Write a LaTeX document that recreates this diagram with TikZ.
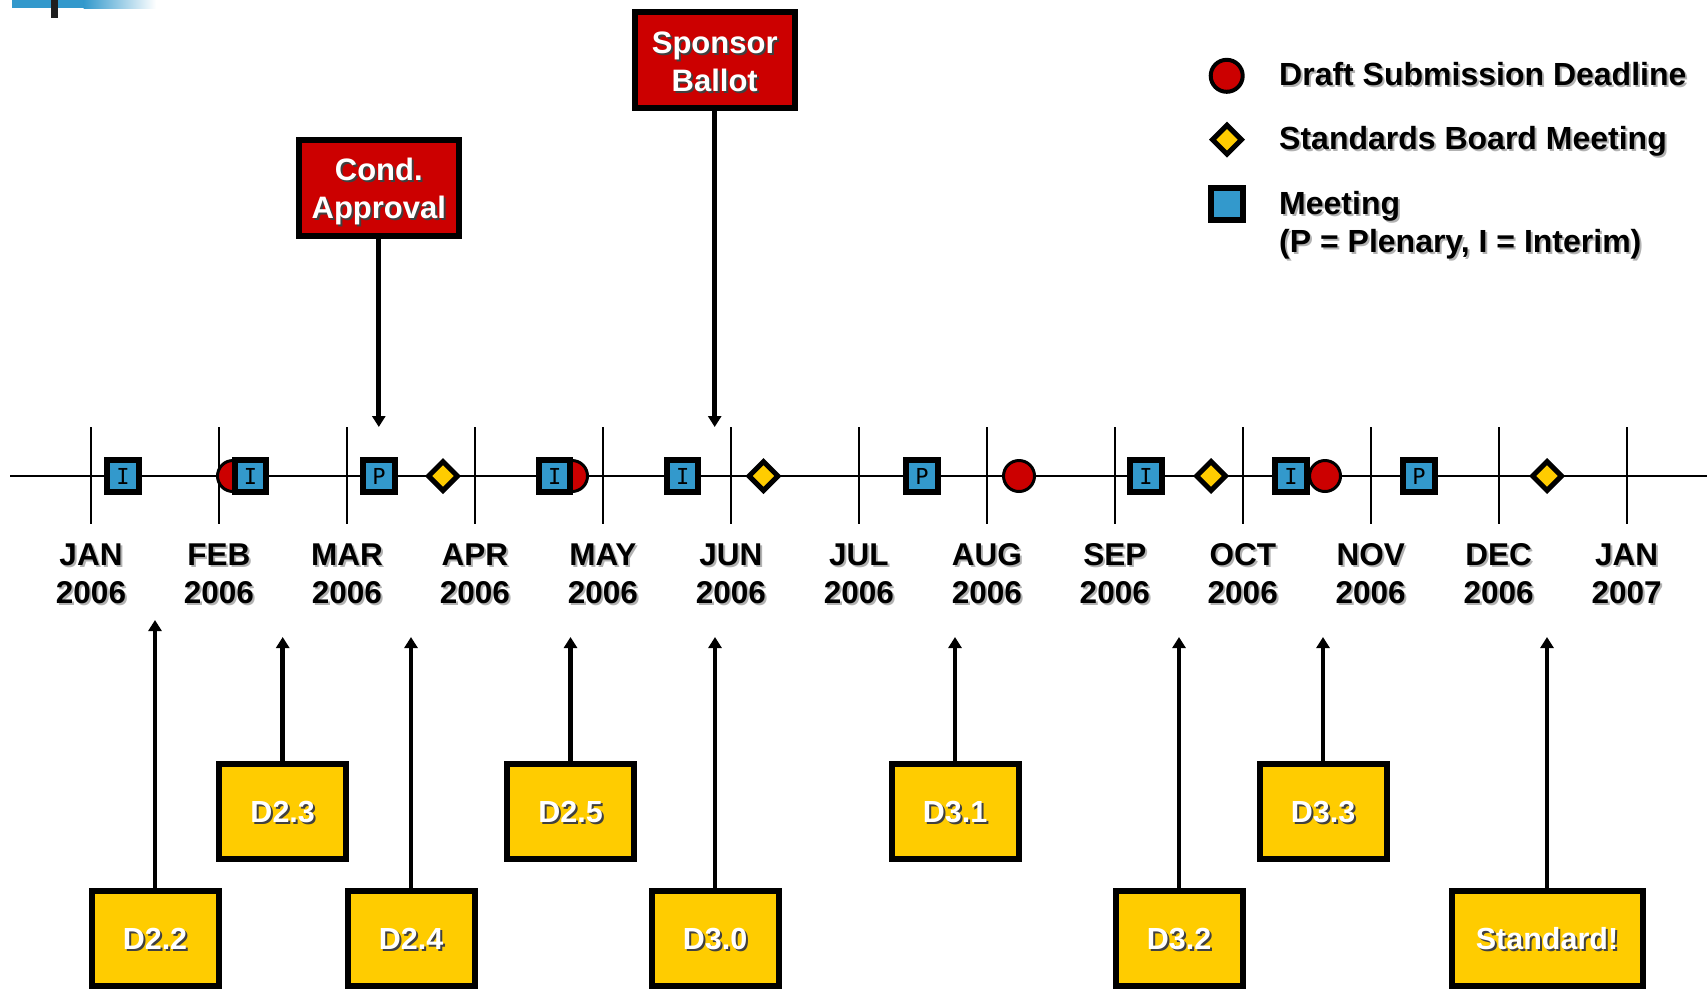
\documentclass[tikz,border=0pt]{standalone}
\usepackage{fontspec}
\setmainfont{Liberation Sans}
\newfontfamily\monof{DejaVu Sans Mono}
\usetikzlibrary{arrows.meta,shapes.geometric}
\definecolor{tlblue}{HTML}{3399CC}
\definecolor{tlyellow}{HTML}{FFCC00}
\definecolor{tlred}{HTML}{CC0000}
\newcommand\shtxt[3]{\makebox[0pt][l]{\hspace{2pt}\raisebox{-2pt}{\textcolor{#2}{#3}}}\textcolor{#1}{#3}}
\newcommand\wtxt[1]{\shtxt{white}{black!75}{#1}}
\newcommand\btxt[1]{\shtxt{black}{black!30}{#1}}
\newcommand\boxtxt[1]{\rule[-8pt]{0pt}{37.8pt}\wtxt{#1}}
\newcommand\twoline[2]{\rule{0pt}{33.4pt}\wtxt{#1}\\\rule[-8pt]{0pt}{8pt}\wtxt{#2}}
\begin{document}
\begin{tikzpicture}[x=1pt,y=-1pt,
  meet/.style={draw=black,fill=tlblue,line width=6pt,minimum size=31.5pt,inner sep=0pt,font=\monof\fontsize{22}{22}\selectfont},
  sbm/.style={draw=black,fill=tlyellow,line width=5pt,diamond,aspect=1,minimum size=31pt,inner sep=0pt},
  dsd/.style={draw=black,fill=tlred,line width=3pt,circle,minimum size=31pt,inner sep=0pt},
  redbox/.style={draw=black,fill=tlred,line width=6pt,minimum width=160pt,minimum height=96pt,inner sep=0pt,align=center,font=\bfseries\fontsize{31}{38}\selectfont},
  dbox/.style={draw=black,fill=tlyellow,line width=6pt,minimum width=127pt,minimum height=95pt,inner sep=0pt,font=\bfseries\fontsize{30.5}{36}\selectfont},
  arr/.style={line width=4.7pt,-{Triangle[width=13pt,length=11pt]}},
  tick/.style={line width=2pt},
  mlab/.style={inner sep=0pt,font=\bfseries\fontsize{31.5}{36}\selectfont},
  leg/.style={inner sep=0pt,anchor=base west,font=\bfseries\fontsize{32}{36}\selectfont}
]
\useasboundingbox (0,0) rectangle (1707,989);
% corner decoration
\fill[tlblue] (12,0) rectangle (84,8);
\shade[left color=tlblue,right color=white] (83.5,0) rectangle (156,8);
\fill[black!88] (51,0) rectangle (58,18);
% timeline
\coordinate (tlstart) at (10,476);
\coordinate (tlend) at (1707,476);
\draw[tick] (tlstart) -- (tlend);
\foreach \m/\yr [count=\k from 0] in {JAN/2006,FEB/2006,MAR/2006,APR/2006,MAY/2006,JUN/2006,JUL/2006,AUG/2006,SEP/2006,OCT/2006,NOV/2006,DEC/2006,JAN/2007}{
  \pgfmathsetmacro\xx{91+127.97*\k}
  \draw[tick] (\xx,427) -- (\xx,524);
  \node[mlab,anchor=base] (mon\k) at (\xx,565.5) {\btxt{\m}};
  \node[mlab,anchor=base] (yr\k) at (\xx,603) {\btxt{\yr}};
}
% markers
\node[meet] (m1) at (123,476) {I};
\node[dsd] (c1) at (233,476) {};
\node[meet] (m2) at (250.5,476) {I};
\node[meet] (m3) at (379,476) {P};
\node[sbm] (s1) at (443,476) {};
\node[dsd] (c2) at (572,476) {};
\node[meet] (m4) at (554.7,476) {I};
\node[meet] (m5) at (682.7,476) {I};
\node[sbm] (s2) at (763.5,476) {};
\node[meet] (m6) at (922,476) {P};
\node[dsd] (c3) at (1019,476) {};
\node[meet] (m7) at (1146,476) {I};
\node[sbm] (s3) at (1211,476) {};
\node[meet] (m8) at (1291,476) {I};
\node[dsd] (c4) at (1325,476) {};
\node[meet] (m9) at (1419,476) {P};
\node[sbm] (s4) at (1547,476) {};
% top boxes
\node[redbox] (cond) at (378.8,187.5) {\twoline{Cond.}{Approval}};
\node[redbox] (spon) at (714.7,59.8) {\twoline{Sponsor}{Ballot}};
\coordinate (condtip) at (378.8,427);
\coordinate (spontip) at (714.7,427);
\draw[arr] (cond.south) -- (condtip);
\draw[arr] (spon.south) -- (spontip);
% bottom boxes
\node[dbox] (d22) at (155,938.5) {\boxtxt{D2.2}};
\node[dbox] (d23) at (282.7,811.5) {\boxtxt{D2.3}};
\node[dbox] (d24) at (411,938.5) {\boxtxt{D2.4}};
\node[dbox] (d25) at (570.5,811.5) {\boxtxt{D2.5}};
\node[dbox] (d30) at (715,938.5) {\boxtxt{D3.0}};
\node[dbox] (d31) at (955,811.5) {\boxtxt{D3.1}};
\node[dbox] (d32) at (1179,938.5) {\boxtxt{D3.2}};
\node[dbox] (d33) at (1323,811.5) {\boxtxt{D3.3}};
\node[dbox,minimum width=191pt] (std) at (1547,938.5) {\boxtxt{Standard!}};
\coordinate (t22) at (155,620);
\coordinate (t23) at (282.7,637);
\coordinate (t24) at (411,637);
\coordinate (t25) at (570.5,637);
\coordinate (t30) at (715,637);
\coordinate (t31) at (955,637);
\coordinate (t32) at (1179,637);
\coordinate (t33) at (1323,637);
\coordinate (tstd) at (1547,637);
\draw[arr] (d22.north) -- (t22);
\draw[arr] (d23.north) -- (t23);
\draw[arr] (d24.north) -- (t24);
\draw[arr] (d25.north) -- (t25);
\draw[arr] (d30.north) -- (t30);
\draw[arr] (d31.north) -- (t31);
\draw[arr] (d32.north) -- (t32);
\draw[arr] (d33.north) -- (t33);
\draw[arr] (std.north) -- (tstd);
% legend
\node[dsd,line width=4pt,minimum size=32pt] (lc) at (1226.7,75.8) {};
\node[sbm] (ls) at (1227,139.7) {};
\node[meet] (lm) at (1227,204) {};
\node[leg] (lt1) at (1279,85.2) {\btxt{Draft Submission Deadline}};
\node[leg] (lt2) at (1279,149.2) {\btxt{Standards Board Meeting}};
\node[leg] (lt3) at (1279,214) {\btxt{Meeting}};
\node[leg] (lt4) at (1279,252) {\btxt{(P = Plenary, I = Interim)}};
\end{tikzpicture}
\end{document}
